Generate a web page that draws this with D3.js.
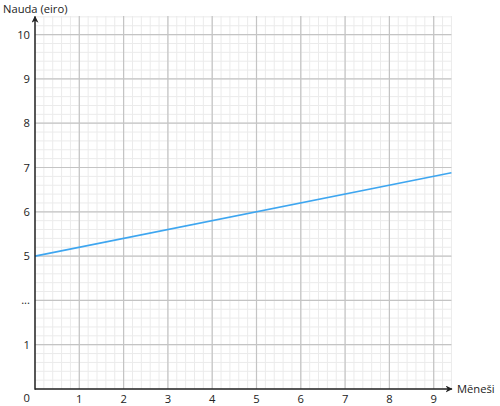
<!DOCTYPE html>
<html>
<head>
<meta charset="utf-8">
<script src="https://cdn.jsdelivr.net/npm/d3@7"></script>
<style>
  body { margin: 0; background: #fff; }
  text { font-family: "Open Sans", sans-serif; font-size: 11.2px; fill: #222; }
</style>
</head>
<body>
<svg id="chart" width="500" height="406"></svg>
<script>
// data
const months = [0, 9.4];
const money = [5, 6.88];
const xTicks = [1, 2, 3, 4, 5, 6, 7, 8, 9];
const yTicks = [1, 3, 5, 6, 7, 8, 9, 10];
const yTickLabels = ["1", "...", "5", "6", "7", "8", "9", "10"];

const svg = d3.select("#chart");

const origin = {x: 35, y: 389};
const unit = 44.3;

// x in months
const x = d3.scaleLinear().domain([0, 9.4]).range([origin.x, origin.x + 9.4 * unit]);

// y is a broken axis: positions 0..8.42, value 1..5 squeezed into 2 positions
const yPos = d3.scaleLinear().domain([0, 8.42]).range([origin.y, origin.y - 8.42 * unit]);
const y = d3.scaleLinear().domain([0, 1, 5, 10.42]).range([0, 1, 3, 8.42].map(yPos));

const gridW = x.range();
const gridH = yPos.range();

// minor grid
const minorX = d3.range(0, 9.4 + 1e-6, 0.2);
const minorY = d3.range(0, 8.42 + 1e-6, 0.2);

svg.append("g").selectAll("line")
    .data(minorX)
    .enter().append("line")
    .attr("x1", d => x(d)).attr("x2", d => x(d))
    .attr("y1", gridH[0]).attr("y2", gridH[1])
    .attr("stroke", "#ebebeb").attr("stroke-width", 1);

svg.append("g").selectAll("line")
    .data(minorY)
    .enter().append("line")
    .attr("y1", d => yPos(d)).attr("y2", d => yPos(d))
    .attr("x1", gridW[0]).attr("x2", gridW[1])
    .attr("stroke", "#ebebeb").attr("stroke-width", 1);

// major grid
svg.append("g").selectAll("line")
    .data(xTicks)
    .enter().append("line")
    .attr("x1", d => x(d)).attr("x2", d => x(d))
    .attr("y1", gridH[0]).attr("y2", gridH[1])
    .attr("stroke", "#c4c4c4").attr("stroke-width", 1.2);

svg.append("g").selectAll("line")
    .data(yTicks)
    .enter().append("line")
    .attr("y1", d => y(d)).attr("y2", d => y(d))
    .attr("x1", gridW[0]).attr("x2", gridW[1])
    .attr("stroke", "#c4c4c4").attr("stroke-width", 1.2);

// line
const line = d3.line()
    .x((d, i) => x(months[i]))
    .y(d => y(d));

svg.append("path")
    .datum(money)
    .attr("d", line)
    .attr("fill", "none")
    .attr("stroke", "#3ea6f0")
    .attr("stroke-width", 1.6);

// axes with arrows
const defs = svg.append("defs");
defs.append("marker")
    .attr("id", "arrow")
    .attr("viewBox", "0 0 10 10")
    .attr("refX", 9).attr("refY", 5)
    .attr("markerWidth", 7).attr("markerHeight", 7)
    .attr("markerUnits", "userSpaceOnUse")
    .attr("orient", "auto")
    .append("path")
    .attr("d", "M0,0 L10,5 L0,10 L3,5 Z")
    .attr("fill", "#222");

svg.append("line")
    .attr("x1", x(0)).attr("x2", x(9.4) + 0.5)
    .attr("y1", y(0)).attr("y2", y(0))
    .attr("stroke", "#222").attr("stroke-width", 1.5)
    .attr("marker-end", "url(#arrow)");

svg.append("line")
    .attr("x1", x(0)).attr("x2", x(0))
    .attr("y1", y(0) + 0.7).attr("y2", yPos(8.42) + 0.5)
    .attr("stroke", "#222").attr("stroke-width", 1.5)
    .attr("marker-end", "url(#arrow)");

// tick labels
svg.append("g").selectAll("text")
    .data(xTicks)
    .enter().append("text")
    .attr("x", d => x(d))
    .attr("y", y(0) + 13.5)
    .attr("text-anchor", "middle")
    .text(d => d);

svg.append("g").selectAll("text")
    .data(yTicks)
    .enter().append("text")
    .attr("x", x(0) - 5)
    .attr("y", d => y(d) + 4)
    .attr("text-anchor", "end")
    .text((d, i) => yTickLabels[i]);

svg.append("text")
    .attr("x", x(0) - 5)
    .attr("y", y(0) + 12.5)
    .attr("text-anchor", "end")
    .text("0");

// axis titles
svg.append("text")
    .attr("x", 3)
    .attr("y", 12.5)
    .text("Nauda (eiro)");

svg.append("text")
    .attr("x", 457)
    .attr("y", y(0) + 4)
    .text("Mēneši");
</script>
</body>
</html>
